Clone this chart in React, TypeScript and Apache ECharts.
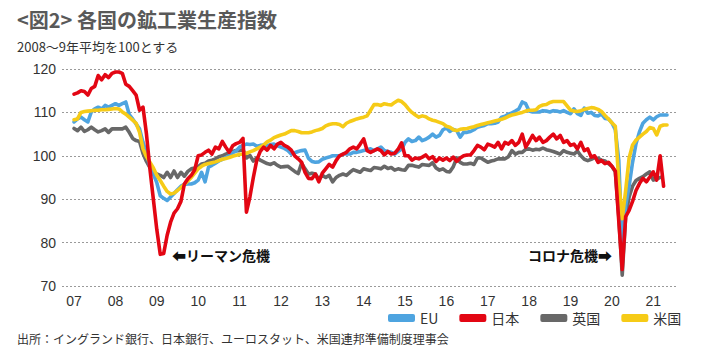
import React, { useEffect, useRef } from 'react';
import * as echarts from 'echarts';

// Monthly data from Jan 2007 (index 0) to May 2021 (index 172); 2008-09 avg = 100
const yearLabels = ['07', '08', '09', '10', '11', '12', '13', '14', '15', '16', '17', '18', '19', '20', '21'];
const yTicks = [70, 80, 90, 100, 110, 120];
const seriesNames = ['EU', '日本', '英国', '米国'];

const euValues: (number | null)[] = [
  107.8, 108.5, 108.9, 108.3, 107.8, 110.1, 110.8, 111.2, 110.8, 111.6, 111.2, 111.6,
  112, 111.6, 112, 112.4, 109.5, 108.5, 107.3, 106.2, 103.1, 100.5, 97.5, 95.8,
  93.8, 90.8, 90.2, 89.7, 90.5, 91.3, 92.2, 93, 93.4, 93.5, 93.5, 93.8,
  94.4, 96.2, 94, 97.4, 97.8, 98.3, 98.8, 99.2, 99.6, 100, 100.7, 101.1,
  102, 102.4, 102.7, 102.6, 102.7, 102.2, 102.4, 102.5, 102.3, 102.6, 102.7, 102.3,
  102, 101.7, 101.2, 100.4, 100.7, 101, 101.2, 101.3, 99.4, 98.7, 98.5, 98.6,
  99.2, 99.5, 99.7, 100, 100, 100, 100.4, 100.4, 100.4, 100.8, 100.8, 101,
  101.2, 101.4, 101.6, 101.2, 101.6, 102, 101.2, 101, 100.8, 100.4, 101, 101.5,
  103.1, 103.9, 103.3, 103.5, 104.3, 103.5, 103.8, 104.3, 105, 104.3, 104.7, 106,
  106.4, 105.6, 106.1, 105.8, 104.3, 105.4, 105.4, 105.6, 106, 106.6, 106.8, 107,
  107.4, 107.4, 107.5, 107.8, 108.9, 109.1, 109.6, 109.9, 110.3, 110.8, 112.4, 112,
  110.3, 110.1, 110.1, 110.1, 110.4, 110.3, 110.1, 110.4, 110.3, 110.1, 110.4, 110,
  109.7, 110.8, 109.7, 109.3, 111, 109.8, 110, 109.3, 109.2, 109.6, 108.6, 108.5,
  107.6, 106, 99, 79, 88.5, 93, 98.5, 102.8, 105.5, 107.5, 108.3, 108.9,
  108.3, 109, 109.4, 109.4, 109.4,
];

const japanValues: (number | null)[] = [
  114.2, 114.5, 115, 114.8, 114, 115.5, 116, 118.5, 117.5, 118.7, 118, 119,
  119.3, 119.3, 119, 116.5, 116, 115, 114, 110.5, 111.2, 105, 97, 90,
  83, 77.3, 77.5, 81.7, 84.7, 86.8, 87.8, 89.5, 93.5, 94.7, 95.5, 96.8,
  100, 100.2, 100.8, 101.3, 100.4, 102, 101.6, 103.3, 102, 100.8, 102.3, 102.8,
  103.1, 104, 87, 90.5, 95, 99, 101, 102, 101.3, 102.4, 101.6, 102.7,
  103.1, 102.4, 102, 101.3, 100, 99.3, 98.5, 96.2, 94.8, 94.7, 95.8, 94,
  96, 97, 98, 97.4, 98.9, 100, 100.4, 100.8, 101.6, 102, 101.6, 102.7,
  103.9, 101.2, 100.8, 101.2, 101.6, 101.2, 100.2, 101, 100.4, 100.6, 101.5, 103,
  100, 100, 99, 99.5, 99.3, 99.7, 100.2, 99.3, 99.8, 98.7, 99.5, 99,
  99.5, 98.9, 99.7, 98.7, 99.5, 100, 100.2, 100.2, 101.2, 102.4, 102, 101.4,
  102.7, 102.4, 102, 103.1, 101.6, 103.1, 102.7, 103.5, 102.4, 103.1, 105, 102,
  103.3, 104.7, 103.5, 104.3, 103.1, 103.5, 104.3, 105, 103.9, 104.7, 103.1, 103.5,
  102.4, 102.7, 101.6, 103.1, 101.2, 101.6, 99.7, 100, 98.5, 98.9, 98.2, 98.5,
  97.6, 96.5, 85, 73.8, 86, 87.4, 89.5, 92, 93.6, 94.8, 94, 95.1,
  96.3, 94.4, 100, 93, null,
];

const ukValues: (number | null)[] = [
  106.3, 105.8, 106.6, 105.6, 106, 106.6, 106, 105.5, 105.8, 106.2, 105.4, 106.2,
  106.2, 106.2, 106.2, 106.6, 105.4, 104, 103.5, 103.3, 100.5, 98.7, 97.3, 96.2,
  95.8, 95.5, 95, 96.2, 95, 96.5, 95, 96.2, 95.3, 96.4, 97, 97.2,
  97.5, 98.1, 98.3, 98.8, 99, 99.3, 99.8, 100, 100.4, 100.7, 101, 101.2,
  101.2, 101.4, 99.5, 100.1, 98.8, 99.5, 99, 98.6, 98.2, 98, 98.4, 97.8,
  97.4, 97.5, 97.6, 97, 96.4, 95.9, 98.3, 97, 95.8, 96, 95.8, 94.6,
  95.5, 95, 95.5, 94, 95, 95.5, 95.8, 95.5, 96.2, 96.8, 96.5, 96.2,
  97, 96.8, 96.6, 97.3, 97.2, 97, 97.6, 97.1, 97.3, 96.7, 97, 96.8,
  96.7, 97.8, 97.8, 97.6, 97.4, 98, 97.9, 97.8, 98.4, 97.2, 96.7, 97,
  96.4, 96.3, 97.5, 99.5, 98.5, 98.1, 98.1, 98.3, 98, 99.5, 99.5, 99,
  98.5, 98.8, 99, 99.3, 99.3, 99.3, 99.8, 101.2, 100.4, 100.8, 100.8, 101.5,
  101.6, 101.3, 101.5, 101.4, 101.8, 101.4, 101.2, 101, 100.7, 100.4, 101.2, 100.8,
  100.6, 100.4, 101.1, 100, 99.2, 98.9, 99.2, 99.6, 99.4, 99, 98.8, 98.2,
  97.6, 96.3, 86, 72.5, 86, 90.5, 93, 94.3, 94.8, 95.2, 95.8, 96.3,
  94.4, 94.6, 95, null, null,
];

const usValues: (number | null)[] = [
  108.3, 108.5, 110, 110.2, 110.3, 110.4, 110.5, 110.5, 110.6, 110.6, 110.7, 110.8,
  110.9, 110.8, 110.1, 109.6, 108.9, 108.2, 107.5, 105.4, 101.6, 99.8, 98.5, 97.2,
  95.5, 94.3, 93, 91.8, 91.2, 91.4, 92, 92.7, 93.4, 94.2, 95, 96,
  97, 97.6, 98, 98.2, 98.4, 98.6, 98.9, 99.2, 99.4, 99.6, 99.9, 100.1,
  100.3, 100.4, 100.6, 100.9, 101.2, 101.6, 102, 102.5, 103.2, 103.6, 104.2, 104.5,
  104.8, 105, 105.4, 105.8, 105.8, 105.6, 105.3, 105.3, 105.3, 105.5, 105.8, 106,
  106.3, 106.9, 107.2, 107.4, 107.4, 107.2, 106.7, 107.5, 107.9, 108.2, 108.5, 108.7,
  108.9, 109.2, 110.5, 111.8, 111.8, 111.6, 112, 111.8, 111.7, 112.3, 112.8, 112.5,
  111.8, 110.8, 110, 109.4, 108.9, 109.2, 109, 108.5, 108.2, 108, 107.7, 107.4,
  106.8, 106.6, 106, 105.8, 106.1, 106.2, 106.3, 106.5, 106.7, 107, 107.2, 107.4,
  107.6, 107.8, 108, 108.2, 108.4, 108.7, 109.1, 109.4, 109.6, 109.8, 110, 110.3,
  110.5, 110.5, 110.6, 111.4, 111.7, 111.8, 112.3, 112.5, 112.5, 112.5, 112.5, 111.5,
  110.5, 110.3, 110.2, 110.4, 110.7, 110.9, 111.1, 111, 110.7, 110.2, 109.3, 108.5,
  107.6, 106.8, 94, 85.5, 92, 99.5, 102.5, 103.6, 104.3, 105, 105.6, 106.5,
  106.3, 104.8, 106.8, 107.1, 107.1,
];

const colors: Record<string, string> = {
  EU: '#4ea4e0',
  日本: '#e30613',
  英国: '#686868',
  米国: '#f6cb17',
};

const JP = '"Noto Sans CJK JP", "Noto Sans", sans-serif';
const NUM = '"Liberation Sans", "Noto Sans CJK JP", sans-serif';

export default function App() {
  const ref = useRef<HTMLDivElement>(null);

  useEffect(() => {
    if (!ref.current) return;
    const chart = echarts.init(ref.current, null, { renderer: 'svg' });
    const toPts = (arr: (number | null)[]) => arr.map((v, i) => [i, v]);
    const mk = (name: string, arr: (number | null)[], z: number) => ({
      name,
      type: 'line',
      data: toPts(arr),
      showSymbol: false,
      symbol: 'none',
      connectNulls: false,
      z,
      lineStyle: { width: 3.6, color: colors[name], cap: 'round', join: 'round' },
      itemStyle: { color: colors[name] },
    });

    chart.setOption({
      animation: false,
      backgroundColor: '#ffffff',
      textStyle: { fontFamily: JP },
      grid: { left: 62, top: 69, width: 614, height: 217, containLabel: false, outerBoundsMode: 'none' },
      xAxis: {
        type: 'value',
        min: -3.5,
        max: 174.6,
        axisLine: { show: false },
        axisTick: { show: false },
        splitLine: { show: false },
        axisLabel: {
          customValues: yearLabels.map((_, i) => i * 12),
          formatter: (v: number) => yearLabels[Math.round(v / 12)] ?? '',
          fontSize: 14,
          color: '#333',
          fontFamily: NUM,
          margin: 8,
        },
      },
      yAxis: {
        type: 'value',
        min: yTicks[0],
        max: yTicks[yTicks.length - 1],
        interval: 10,
        axisLine: { show: false },
        axisTick: { show: false },
        axisLabel: { fontSize: 14, color: '#333', fontFamily: NUM, margin: 6 },
        splitLine: { lineStyle: { type: [2, 2], color: '#9a9a9a', width: 1 } },
      },
      legend: {
        data: seriesNames,
        left: 388,
        top: 311,
        icon: 'roundRect',
        itemWidth: 27,
        itemHeight: 8,
        itemGap: 21,
        padding: 0,
        textStyle: { fontSize: 14, color: '#333', fontFamily: JP },
      },
      series: [
        mk('英国', ukValues, 2),
        mk('EU', euValues, 3),
        mk('米国', usValues, 4),
        mk('日本', japanValues, 5),
      ],
      graphic: [
        {
          type: 'text', x: 17, y: 19,
          style: { text: '<図2> 各国の鉱工業生産指数', fontSize: 20, fontWeight: 'bold', fontFamily: JP, fill: '#595959', verticalAlign: 'middle' },
        },
        {
          type: 'text', x: 17, y: 46,
          style: { text: '2008～9年平均を100とする', fontSize: 13, fontFamily: JP, fill: '#333', verticalAlign: 'middle' },
        },
        {
          type: 'text', x: 172, y: 255, z: 10,
          style: { text: '⬅リーマン危機', fontSize: 14, fontWeight: 'bold', fontFamily: '"Noto Sans CJK JP", "DejaVu Sans", sans-serif', fill: '#111', verticalAlign: 'middle' },
        },
        {
          type: 'text', x: 528, y: 255, z: 10,
          style: { text: 'コロナ危機➡', fontSize: 14, fontWeight: 'bold', fontFamily: '"Noto Sans CJK JP", "DejaVu Sans", sans-serif', fill: '#111', verticalAlign: 'middle' },
        },
        {
          type: 'text', x: 17, y: 338,
          style: { text: '出所：イングランド銀行、日本銀行、ユーロスタット、米国連邦準備制度理事会', fontSize: 12, fontFamily: JP, fill: '#333', verticalAlign: 'middle' },
        },
      ],
    });

    return () => chart.dispose();
  }, []);

  return (
    <div
      ref={ref}
      style={{ position: 'fixed', left: 0, top: 0, width: 710, height: 359, background: '#fff' }}
    />
  );
}
